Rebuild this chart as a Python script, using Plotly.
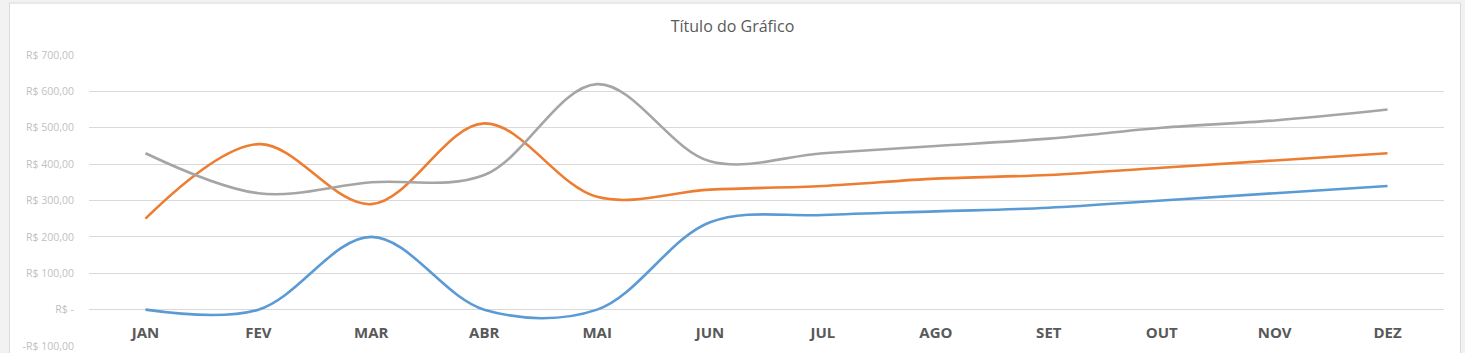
import plotly.graph_objects as go

months = ["JAN", "FEV", "MAR", "ABR", "MAI", "JUN", "JUL", "AGO", "SET", "OUT", "NOV", "DEZ"]
serie_azul = [0, 0, 200, 0, 0, 240, 260, 270, 280, 300, 320, 340]
serie_laranja = [250, 455, 290, 512, 310, 330, 340, 360, 370, 390, 410, 430]
serie_cinza = [430, 320, 350, 370, 620, 408, 430, 450, 470, 500, 520, 550]
y_ticks = [-100, 0, 100, 200, 300, 400, 500, 600, 700]
y_labels = ["-R$ 100,00", "R$ -", "R$ 100,00", "R$ 200,00", "R$ 300,00",
            "R$ 400,00", "R$ 500,00", "R$ 600,00", "R$ 700,00"]

series = [
    ("Série1", serie_azul, "#5B9BD5"),
    ("Série2", serie_laranja, "#ED7D31"),
    ("Série3", serie_cinza, "#A5A5A5"),
]

fig = go.Figure()
for name, vals, color in series:
    fig.add_trace(go.Scatter(
        x=months, y=vals, name=name, mode="lines",
        line=dict(color=color, width=2.6, shape="spline", smoothing=1.0),
    ))

W, H = 1465, 353
ml, mr, mt, mb = 88.5, 20.5, 55, 6.5
pw = W - ml - mr
ph = H - mt - mb

def px_x(p):
    return (p - ml) / pw

def px_y(p):
    return (H - mb - p) / ph

fig.add_shape(type="rect", xref="paper", yref="paper",
              x0=px_x(9), x1=px_x(1461), y0=px_y(360), y1=px_y(3),
              line=dict(color="#D9D9D9", width=1), fillcolor="white", layer="below")

fig.update_layout(
    width=W, height=H,
    margin=dict(l=ml, r=mr, t=mt, b=mb, pad=0, autoexpand=False),
    paper_bgcolor="#F2F2F2",
    plot_bgcolor="rgba(0,0,0,0)",
    showlegend=False,
    title=dict(text="Título do Gráfico", x=0.5, xref="container", xanchor="center",
               y=1 - 26 / H, yanchor="middle",
               font=dict(family="Open Sans, Noto Sans, sans-serif", size=16, color="#595959")),
    font=dict(family="Open Sans, Noto Sans, sans-serif"),
)
fig.update_xaxes(
    type="category", range=[-0.5, 11.5], automargin=False,
    showgrid=False, zeroline=False, showline=False,
    anchor="free", position=0.125,
    ticks="outside", ticklen=9, tickcolor="rgba(0,0,0,0)",
    tickfont=dict(family="Open Sans, Noto Sans, sans-serif", size=15, color="#595959", weight="bold"),
)
fig.update_yaxes(
    range=[-100, 700], tickvals=y_ticks, ticktext=y_labels, automargin=False,
    showgrid=True, gridcolor="#D9D9D9", gridwidth=1,
    zeroline=False, showline=False,
    ticks="outside", ticklen=12, tickcolor="rgba(0,0,0,0)",
    tickfont=dict(family="Open Sans, Noto Sans, sans-serif", size=10.5, color="#BFBFBF"),
)

fig.write_html("out.html")
